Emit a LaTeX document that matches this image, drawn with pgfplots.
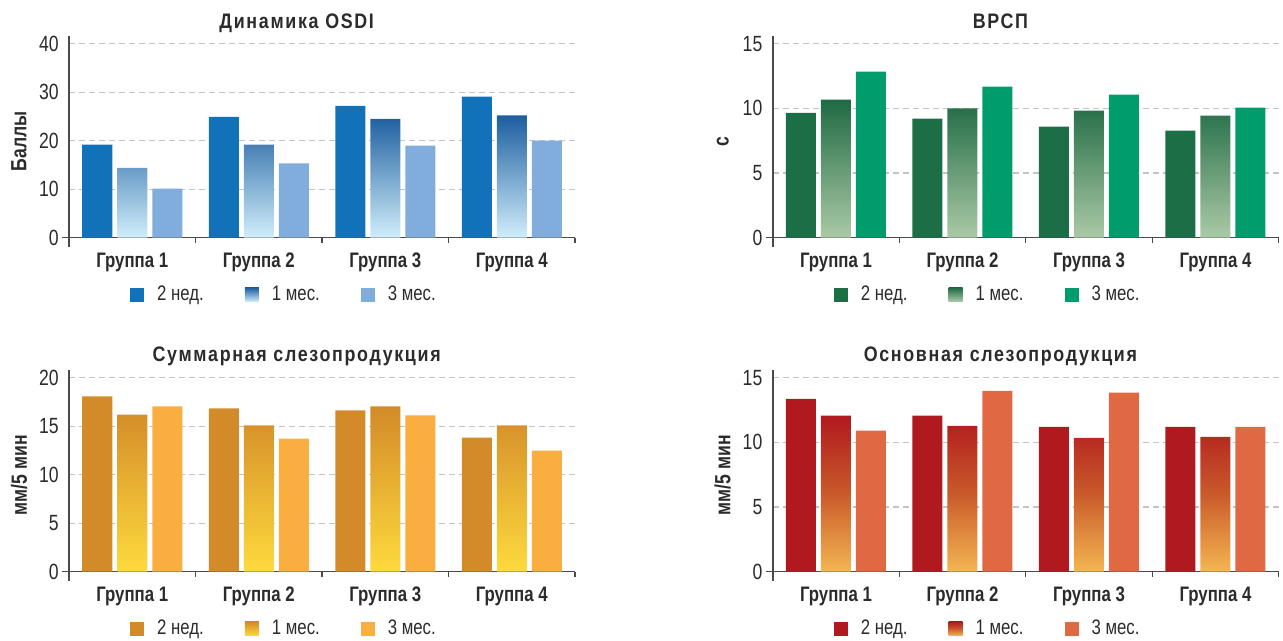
\documentclass[border=0pt]{standalone}
\usepackage{pgfplots}
\pgfplotsset{compat=1.18}
\usepackage{fontspec}
\setmainfont{Liberation Sans}[FakeStretch=0.8]
\newfontfamily\titlefont{Liberation Sans}[FakeStretch=0.85, LetterSpace=8]

\definecolor{txt}{HTML}{2B2B2B}
\definecolor{axisgray}{HTML}{4A4A4A}
\definecolor{gridgray}{HTML}{C4C4C4}
% blue (OSDI)
\definecolor{b1}{HTML}{1172BA}
\definecolor{b2t}{HTML}{1D5E9F}
\definecolor{b2b}{HTML}{D0EEFB}
\definecolor{b3}{HTML}{80ADDC}
% green
\definecolor{g1}{HTML}{1B6E45}
\definecolor{g2t}{HTML}{1E6A43}
\definecolor{g2b}{HTML}{ABCAA6}
\definecolor{g3}{HTML}{009C6B}
% orange
\definecolor{o1}{HTML}{D38A29}
\definecolor{o2t}{HTML}{D38A29}
\definecolor{o2b}{HTML}{FDDA3D}
\definecolor{o3}{HTML}{FAAE40}
% red
\definecolor{r1}{HTML}{B0191E}
\definecolor{r2t}{HTML}{B0191E}
\definecolor{r2m}{HTML}{C95A2A}
\definecolor{r2b}{HTML}{F4B652}
\definecolor{r3}{HTML}{E06843}

\pgfplotsset{
  panel/.style={
    scale only axis, width=253pt, height=105.5pt,
    xmin=0.5, xmax=4.5, enlargelimits=false,
    axis x line=middle, axis y line=left,
    axis line style={-, draw=axisgray, line width=0.8pt},
    x axis line style={shorten <=-3.5pt},
    hide obscured x ticks=false, hide obscured y ticks=false,
    xtick={1,2,3,4},
    xticklabels={Группа 1,Группа 2,Группа 3,Группа 4},
    minor xtick={1.5,2.5,3.5,4.5},
    major tick length=0pt, minor tick length=2.5pt, tick align=outside,
    minor tick style={draw=axisgray, line width=0.6pt},
    ymajorgrids,
    major grid style={draw=gridgray, line width=0.6pt, dash pattern=on 3pt off 2pt},
    /pgf/number format/assume math mode=true,
    tick label style={text=txt},
    xticklabel style={font=\bfseries\fontsize{10.5}{12}\selectfont, anchor=north, inner sep=0pt, yshift=-7.5pt},
    yticklabel style={font=\fontsize{11}{12}\selectfont, anchor=east, inner sep=0pt, xshift=-5pt},
    every axis y label/.style={at={(axis description cs:0,0.5)}, xshift=-25pt, rotate=90, anchor=center,
      font=\bfseries\fontsize{11}{12}\selectfont, text=txt},
    every axis title/.style={at={(axis description cs:0.45,1)}, anchor=base, yshift=3.6pt,
      font=\titlefont\bfseries\fontsize{10.5}{12}\selectfont, text=txt},
    legend columns=3,
    legend style={draw=none, fill=none, at={(axis description cs:0.1208,0)}, anchor=west, yshift=-24pt,
      inner sep=0pt, outer sep=0pt, font=\fontsize{10.5}{12}\selectfont, text=txt,
      nodes={inner sep=0pt},
      /tikz/every even column/.append style={column sep=20.5pt}},
  },
  bar/.style={ybar, bar width=15pt, draw=none,
    legend image code/.code={\path[##1] (0pt,-3.5pt) rectangle (7pt,3.5pt); \path (13.5pt,0pt);}},
  s1/.style={bar, bar shift=-17.5pt},
  s2/.style={bar, bar shift=0pt},
  s3/.style={bar, bar shift=17.5pt},
}

\begin{document}
\begin{tikzpicture}
\useasboundingbox (0,0) rectangle (641.5pt,320.5pt);

% ---- Динамика OSDI
\begin{axis}[panel, at={(34.5pt,197.15pt)}, anchor=south west,
  ymin=-1.856, ymax=41.65, ytick={0,10,20,30,40},
  title={Динамика OSDI}, ylabel={Баллы}, every axis title/.append style={yshift=-0.2pt}]
\addplot[s1, fill=b1] coordinates {(1,19.2) (2,24.9) (3,27.2) (4,29.1)};
\addplot[s2, top color=b2t, bottom color=b2b] coordinates {(1,14.4) (2,19.2) (3,24.5) (4,25.2)};
\addplot[s3, fill=b3] coordinates {(1,10.1) (2,15.3) (3,19.0) (4,20.0)};
\legend{2 нед.,1 мес.,3 мес.}
\end{axis}

% ---- ВРСП
\begin{axis}[panel, at={(386.35pt,197.15pt)}, anchor=south west,
  ymin=-0.696, ymax=15.62, ytick={0,5,10,15},
  title={ВРСП}, ylabel={с}]
\addplot[s1, fill=g1] coordinates {(1,9.66) (2,9.2) (3,8.58) (4,8.27)};
\addplot[s2, top color=g2t, bottom color=g2b] coordinates {(1,10.67) (2,10.0) (3,9.82) (4,9.43)};
\addplot[s3, fill=g3] coordinates {(1,12.84) (2,11.68) (3,11.06) (4,10.05)};
\legend{2 нед.,1 мес.,3 мес.}
\end{axis}

% ---- Суммарная слезопродукция
\begin{axis}[panel, at={(34.5pt,30.15pt)}, anchor=south west,
  ymin=-0.928, ymax=20.82, ytick={0,5,10,15,20},
  title={Суммарная слезопродукция}, ylabel={мм/5 мин},
  every axis title/.append style={yshift=0.6pt}]
\addplot[s1, fill=o1] coordinates {(1,18.07) (2,16.83) (3,16.62) (4,13.83)};
\addplot[s2, top color=o2t, bottom color=o2b] coordinates {(1,16.2) (2,15.07) (3,17.03) (4,15.07)};
\addplot[s3, fill=o3] coordinates {(1,17.03) (2,13.72) (3,16.1) (4,12.48)};
\legend{2 нед.,1 мес.,3 мес.}
\end{axis}

% ---- Основная слезопродукция
\begin{axis}[panel, at={(386.35pt,30.15pt)}, anchor=south west,
  ymin=-0.696, ymax=15.62, ytick={0,5,10,15},
  title={Основная слезопродукция}, ylabel={мм/5 мин},
  every axis title/.append style={yshift=0.6pt}]
\addplot[s1, fill=r1] coordinates {(1,13.37) (2,12.06) (3,11.2) (4,11.2)};
\addplot[s2, top color=r2t, bottom color=r2b, middle color=r2m] coordinates {(1,12.06) (2,11.28) (3,10.35) (4,10.43)};
\addplot[s3, fill=r3] coordinates {(1,10.9) (2,13.99) (3,13.84) (4,11.2)};
\legend{2 нед.,1 мес.,3 мес.}
\end{axis}
\end{tikzpicture}
\end{document}
